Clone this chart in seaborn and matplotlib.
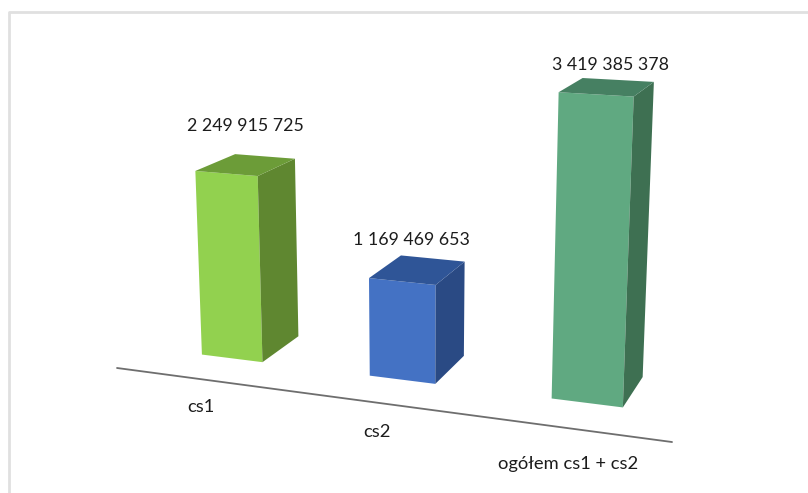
import numpy as np
import pandas as pd
import matplotlib
matplotlib.use("Agg")
import matplotlib.pyplot as plt
import matplotlib.transforms as mtransforms
from matplotlib.patches import Polygon
from matplotlib.lines import Line2D
import seaborn as sns

categories = ["cs1", "cs2", "ogółem cs1 + cs2"]
values = [2249915725, 1169469653, 3419385378]
front_colors = ["#92D14F", "#4472C4", "#60A981"]
side_colors = ["#5F8730", "#2A4A84", "#3E7052"]
top_colors = ["#6C9C38", "#2F5597", "#468062"]

# camera for the excel style 3d look, (bar pos, value in bn, depth) -> pixels
camera = np.array([[154.67692, -5.53082, 50.8457, 231.9786],
                   [6.62675, -84.4724, -8.59607, 358.34261],
                   [-0.03887, -0.01331, 0.05092, 1.0]])


def project(c, v, d=0.0):
    p = camera @ np.array([c, v / 1e9, d, 1.0])
    return p[0] / p[2], p[1] / p[2]


class FrontFace(mtransforms.Transform):
    input_dims = 2
    output_dims = 2

    def transform_non_affine(self, values):
        out = [project(c, v) for c, v in np.asarray(values)]
        return to_display.transform(np.array(out))


sns.set_theme(style="white")
plt.rcParams["font.family"] = ["Lato", "DejaVu Sans"]

df = pd.DataFrame({"cat": categories, "val": values})

fig = plt.figure(figsize=(8.08, 4.93), dpi=100)
ax = fig.add_axes([0, 0, 1, 1])
sns.barplot(data=df, x="cat", y="val", hue="cat", palette=front_colors,
            width=0.37, saturation=1, legend=False, ax=ax)
ax.axis("off")

# image pixels (y down) to display
to_display = mtransforms.Affine2D().scale(1, -1).translate(0, 493)

# where the texts sit, in image pixels
value_label_pos = [(245, 126), (411, 240), (610, 65)]
cat_label_pos = [(201, 407), (377, 432), (568, 464)]

for i, bar in enumerate(ax.patches):
    l = bar.get_x()
    r = l + bar.get_width()
    h = bar.get_height()
    bar.set_transform(FrontFace())
    bar.set_linewidth(0)
    bar.set_clip_on(False)
    side = [project(r, h), project(r, h, 1), project(r, 0, 1), project(r, 0)]
    top = [project(l, h), project(r, h), project(r, h, 1), project(l, h, 1)]
    fig.add_artist(Polygon(side, closed=True, fc=side_colors[i], lw=0, transform=to_display))
    fig.add_artist(Polygon(top, closed=True, fc=top_colors[i], lw=0, transform=to_display))

    # value label above the bar
    lx, ly = value_label_pos[i]
    fig.text(lx, ly, f"{values[i]:,}".replace(",", " "), fontsize=12.8, color="#1c1c1c",
             ha="center", va="center", transform=to_display)

# slanted category axis
a = project(-0.512, 0, -0.745)
b = project(2.505, 0, -0.773)
fig.add_artist(Line2D([a[0], b[0]], [a[1], b[1]], color="#6e6e6e", lw=1.3, transform=to_display))

for name, (x, y) in zip(categories, cat_label_pos):
    fig.text(x, y, name, fontsize=13.2, color="#1c1c1c", ha="center", va="center", transform=to_display)

# chart frame, only top and left show in the crop
fig.add_artist(Line2D([808, 8.5, 8.5], [11.5, 11.5, 493], color="#e0e0e0", lw=2, transform=to_display))

fig.savefig("out.png", dpi=100)
